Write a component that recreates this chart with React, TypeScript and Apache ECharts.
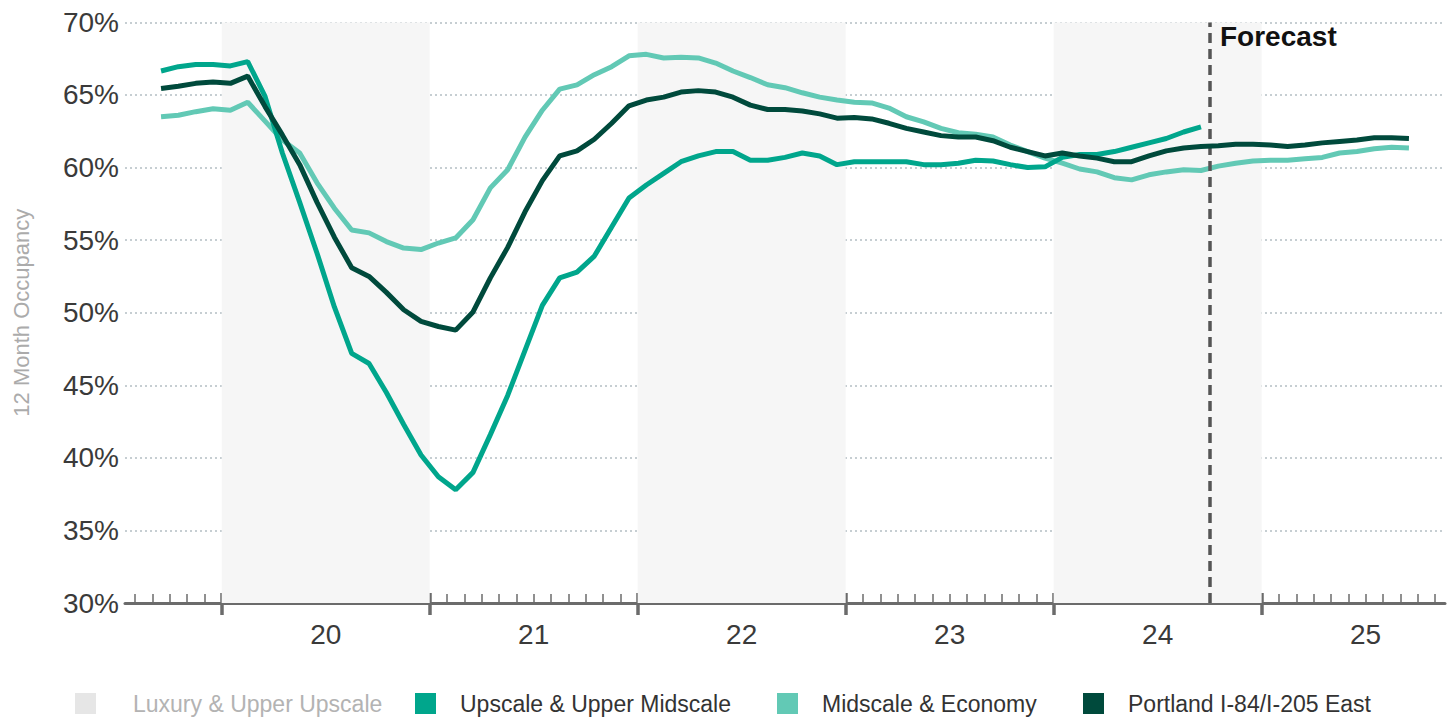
import React, { useEffect, useRef } from "react";
import * as echarts from "echarts";

// x positions are in month units: 0 = start of Aug 2019, each month spans 1 unit
const FIRST_MONTH = "2019-09";
const FIRST_MONTH_CENTER = 1.5;
const MONTH_TICKS = Array.from({ length: 76 }, (_, i) => i);
const YEAR_LABELS = ["20", "21", "22", "23", "24", "25"];
const YEAR_CENTERS = [11, 23, 35, 47, 59, 71];
const YEAR_BOUNDARIES = [5, 17, 29, 41, 53, 65];
const SHADED_YEARS: [number, number][] = [
  [5, 17],
  [29, 41],
  [53, 65],
];
const FORECAST_START = 62;

const Y_MIN = 30;
const Y_MAX = 70;
const Y_STEP = 5;

const SERIES_NAMES = [
  "Luxury & Upper Upscale",
  "Upscale & Upper Midscale",
  "Midscale & Economy",
  "Portland I-84/I-205 East",
];
const SERIES_COLORS = ["#e6e6e6", "#00a68c", "#62c9b5", "#004a3c"];

const UPSCALE = [
  66.65, 66.95, 67.1, 67.1, 67.0, 67.3, 64.9, 61.0, 57.6, 54.1, 50.4, 47.2,
  46.5, 44.5, 42.3, 40.2, 38.7, 37.8, 39.0, 41.6, 44.3, 47.4, 50.5, 52.4,
  52.8, 53.9, 55.9, 57.9, 58.8, 59.6, 60.4, 60.8, 61.1, 61.1, 60.5, 60.5,
  60.7, 61.0, 60.8, 60.2, 60.4, 60.4, 60.4, 60.4, 60.2, 60.2, 60.3, 60.5,
  60.45, 60.2, 60.0, 60.05, 60.7, 60.9, 60.9, 61.1, 61.4, 61.7, 62.0, 62.45,
  62.8,
];

const MIDSCALE = [
  63.5, 63.6, 63.85, 64.05, 63.95, 64.5, 63.2, 61.9, 61.0, 58.95, 57.2, 55.7,
  55.5, 54.9, 54.45, 54.35, 54.8, 55.15, 56.4, 58.6, 59.85, 62.1, 63.95, 65.4,
  65.7, 66.4, 66.95, 67.7, 67.8, 67.55, 67.6, 67.55, 67.2, 66.65, 66.2, 65.7,
  65.5, 65.15, 64.85, 64.65, 64.5, 64.45, 64.1, 63.5, 63.15, 62.7, 62.4, 62.3,
  62.1, 61.55, 61.1, 60.65, 60.3, 59.9, 59.7, 59.3, 59.15, 59.5, 59.7, 59.85,
  59.8, 60.1, 60.3, 60.45, 60.5, 60.5, 60.6, 60.7, 61.0, 61.1, 61.3, 61.4,
  61.35,
];

const PORTLAND = [
  65.45, 65.6, 65.8, 65.9, 65.8, 66.3, 64.2, 62.25, 60.2, 57.6, 55.2, 53.1,
  52.5, 51.4, 50.2, 49.4, 49.05, 48.8, 50.05, 52.4, 54.5, 56.95, 59.1, 60.8,
  61.15, 61.95, 63.05, 64.25, 64.65, 64.85, 65.2, 65.3, 65.2, 64.85, 64.3, 64.0,
  64.0, 63.9, 63.7, 63.4, 63.45, 63.35, 63.05, 62.7, 62.45, 62.2, 62.1, 62.1,
  61.85, 61.4, 61.1, 60.8, 61.0, 60.8, 60.65, 60.4, 60.4, 60.8, 61.15, 61.35,
  61.45, 61.5, 61.6, 61.6, 61.55, 61.45, 61.55, 61.7, 61.8, 61.9, 62.05, 62.05,
  62.0,
];

const FONT = "'Liberation Sans', Arial, sans-serif";

function toPoints(values: number[]) {
  return values.map((v, i) => [FIRST_MONTH_CENTER + i, v]);
}

const X_MIN = -0.58;
const X_MAX = 75.58;

export default function App() {
  const ref = useRef<HTMLDivElement>(null);

  useEffect(() => {
    if (!ref.current) return;
    const chart = echarts.init(ref.current, undefined, { renderer: "svg" });

    const baseX = {
      type: "value",
      min: X_MIN,
      max: X_MAX,
      position: "bottom",
      splitLine: { show: false },
    };

    const legendLefts = [75, 415, 777, 1083];

    chart.setOption({
      animation: false,
      backgroundColor: "#ffffff",
      textStyle: { fontFamily: FONT },
      grid: { left: 125, right: 10, top: 22.4, bottom: 114, containLabel: false },
      xAxis: [
        {
          ...baseX,
          axisLine: { show: true, onZero: false, lineStyle: { color: "#6b6b6b", width: 3 } },
          axisTick: {
            show: true,
            inside: true,
            length: 9,
            customValues: MONTH_TICKS,
            lineStyle: { color: "#6b6b6b", width: 1.5 },
          },
          axisLabel: {
            show: true,
            customValues: YEAR_CENTERS,
            formatter: (v: number) => YEAR_LABELS[YEAR_CENTERS.indexOf(Math.round(v))] ?? "",
            fontSize: 28,
            color: "#3a3a3a",
            margin: 17,
            fontFamily: FONT,
          },
        },
        {
          ...baseX,
          axisLine: { show: false, onZero: false },
          axisTick: {
            show: true,
            inside: false,
            length: 12,
            customValues: YEAR_BOUNDARIES,
            lineStyle: { color: "#6b6b6b", width: 3.5 },
          },
          axisLabel: { show: false },
        },
        {
          ...baseX,
          axisLine: { show: false, onZero: false },
          axisTick: {
            show: true,
            inside: true,
            length: 10,
            customValues: YEAR_BOUNDARIES,
            lineStyle: { color: "#6b6b6b", width: 3.5 },
          },
          axisLabel: { show: false },
        },
      ],
      yAxis: {
        type: "value",
        min: Y_MIN,
        max: Y_MAX,
        interval: Y_STEP,
        name: "12 Month Occupancy",
        nameLocation: "middle",
        nameGap: 93,
        nameTextStyle: { fontSize: 22, color: "#ababab", fontFamily: FONT },
        axisLine: { show: false },
        axisTick: { show: false },
        axisLabel: {
          formatter: "{value}%",
          fontSize: 28,
          color: "#3a3a3a",
          margin: 6,
          fontFamily: FONT,
        },
        splitLine: {
          show: true,
          lineStyle: { color: "#b4bec3", width: 1.5, type: [2, 3] },
        },
      },
      legend: SERIES_NAMES.map((name, i) => ({
        left: legendLefts[i],
        top: 692,
        padding: 0,
        icon: "rect",
        itemWidth: 21,
        itemHeight: 21,
        data: [
          {
            name,
            textStyle: {
              color: i === 0 ? "#b3b3b3" : "#333333",
              padding: [0, 0, 0, i === 0 ? 32 : 19],
            },
          },
        ],
        textStyle: { fontSize: 23, fontFamily: FONT },
        selectedMode: false,
      })),
      series: [
        {
          name: SERIES_NAMES[0],
          type: "line",
          data: [],
          color: SERIES_COLORS[0],
          itemStyle: { color: SERIES_COLORS[0] },
          markArea: {
            silent: true,
            itemStyle: { color: "#f6f6f6" },
            data: SHADED_YEARS.map(([a, b]) => [{ xAxis: a }, { xAxis: b }]),
          },
          markLine: {
            silent: true,
            symbol: "none",
            label: { show: false },
            lineStyle: { color: "#555555", width: 3.5, type: [10, 6] },
            data: [{ xAxis: FORECAST_START }],
          },
          z: 1,
        },
        {
          name: SERIES_NAMES[2],
          type: "line",
          data: toPoints(MIDSCALE),
          color: SERIES_COLORS[2],
          showSymbol: false,
          symbol: "none",
          lineStyle: { width: 5, color: SERIES_COLORS[2] },
          itemStyle: { color: SERIES_COLORS[2] },
          z: 3,
        },
        {
          name: SERIES_NAMES[1],
          type: "line",
          data: toPoints(UPSCALE),
          color: SERIES_COLORS[1],
          showSymbol: false,
          symbol: "none",
          lineStyle: { width: 5, color: SERIES_COLORS[1] },
          itemStyle: { color: SERIES_COLORS[1] },
          z: 4,
        },
        {
          name: SERIES_NAMES[3],
          type: "line",
          data: toPoints(PORTLAND),
          color: SERIES_COLORS[3],
          showSymbol: false,
          symbol: "none",
          lineStyle: { width: 5, color: SERIES_COLORS[3] },
          itemStyle: { color: SERIES_COLORS[3] },
          z: 5,
        },
      ],
      graphic: [
        {
          type: "text",
          left: 1220,
          top: 22,
          z: 100,
          zlevel: 0,
          style: {
            text: "Forecast",
            fontSize: 28,
            fontWeight: "bold",
            fill: "#111111",
            fontFamily: FONT,
          },
        },
      ],
    });

    return () => chart.dispose();
  }, []);

  return (
    <div
      ref={ref}
      style={{ position: "absolute", left: 0, top: 0, width: 1455, height: 717 }}
    />
  );
}
